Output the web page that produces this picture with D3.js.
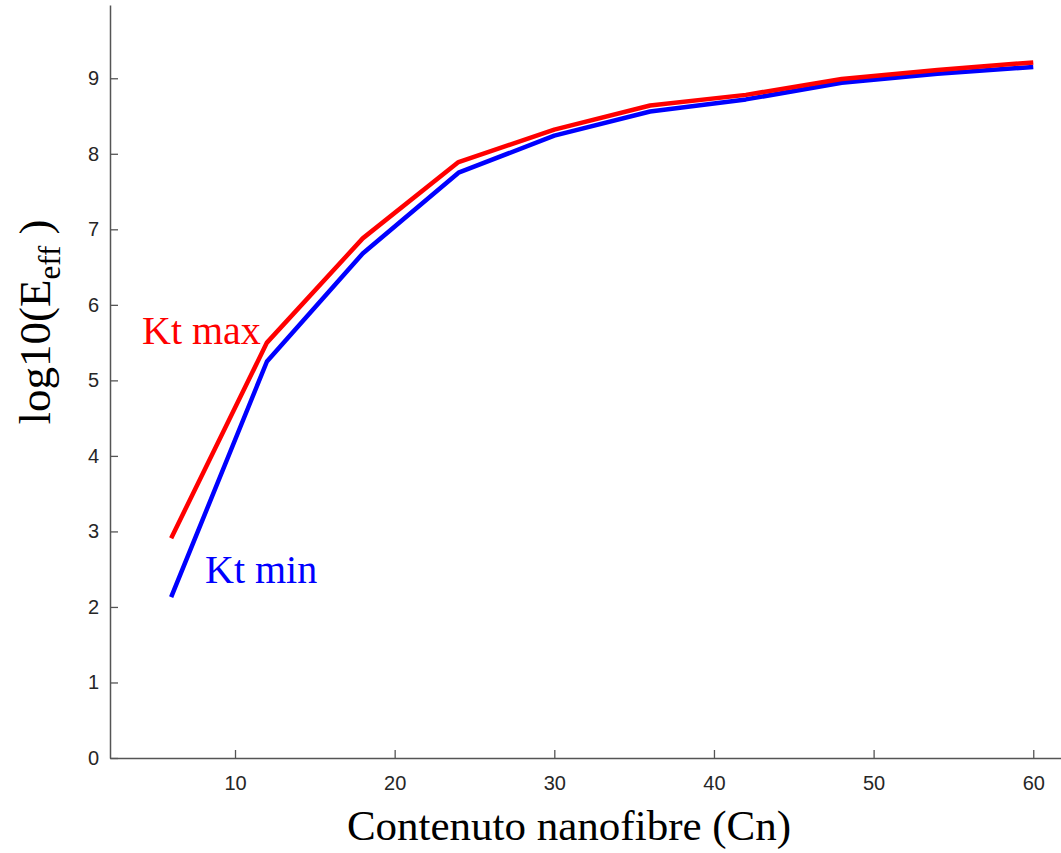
<!DOCTYPE html>
<html>
<head>
<meta charset="utf-8">
<script src="https://cdn.jsdelivr.net/npm/d3@7"></script>
<style>
  body { margin: 0; background: #fff; }
  svg { display: block; }
</style>
</head>
<body>
<div id="chart"></div>
<script>
// nanofibre content (x) and log10(Eeff) for the two Kt bounds
const contenuto = [6, 12, 18, 24, 30, 36, 42, 48, 54, 60];
const ktMax = [2.91, 5.50, 6.88, 7.89, 8.32, 8.64, 8.78, 8.99, 9.11, 9.21];
const ktMin = [2.13, 5.25, 6.68, 7.75, 8.24, 8.56, 8.72, 8.94, 9.06, 9.15];
const xTicks = [10, 20, 30, 40, 50, 60];
const yTicks = [0, 1, 2, 3, 4, 5, 6, 7, 8, 9];

const width = 1061;
const height = 853;

const svg = d3.select('#chart')
  .append('svg')
  .attr('width', width)
  .attr('height', height);

const xScale = d3.scaleLinear()
  .domain([2.17, 61.8])
  .range([110, 1062]);

const yScale = d3.scaleLinear()
  .domain([0, 9.97])
  .range([758, 5]);

const xAxis = d3.axisBottom(xScale)
  .tickValues(xTicks)
  .tickSizeInner(-8)
  .tickSizeOuter(0)
  .tickPadding(18);

const yAxis = d3.axisLeft(yScale)
  .tickValues(yTicks)
  .tickSizeInner(-8)
  .tickSizeOuter(0)
  .tickPadding(11);

const gx = svg.append('g')
  .attr('transform', 'translate(0,' + 758 + ')')
  .call(xAxis);

const gy = svg.append('g')
  .attr('transform', 'translate(110,0)')
  .call(yAxis);

[gx, gy].forEach(g => {
  g.select('.domain').attr('stroke', '#555').attr('stroke-width', 1.5);
  g.selectAll('.tick line').attr('stroke', '#555').attr('stroke-width', 1.3);
  g.selectAll('.tick text')
    .attr('fill', '#262626')
    .style('font-family', '"Liberation Sans", Arial, sans-serif')
    .style('font-size', '20px');
});

const line = d3.line()
  .x((d, i) => xScale(contenuto[i]))
  .y(d => yScale(d));

svg.append('path')
  .datum(ktMin)
  .attr('fill', 'none')
  .attr('stroke', '#0000ff')
  .attr('stroke-width', 4.5)
  .attr('stroke-linejoin', 'round')
  .attr('d', line);

svg.append('path')
  .datum(ktMax)
  .attr('fill', 'none')
  .attr('stroke', '#ff0000')
  .attr('stroke-width', 4.5)
  .attr('stroke-linejoin', 'round')
  .attr('d', line);

const serif = '"Liberation Serif", "Times New Roman", serif';

svg.append('text')
  .attr('x', 142)
  .attr('y', 344)
  .attr('fill', '#ff0000')
  .style('font-family', serif)
  .style('font-size', '40px')
  .text('Kt max');

svg.append('text')
  .attr('x', 205)
  .attr('y', 583)
  .attr('fill', '#0000ff')
  .style('font-family', serif)
  .style('font-size', '40px')
  .text('Kt min');

svg.append('text')
  .attr('x', 569)
  .attr('y', 840)
  .attr('text-anchor', 'middle')
  .attr('fill', '#000')
  .style('font-family', serif)
  .style('font-size', '43px')
  .text('Contenuto nanofibre (Cn)');

const ylab = svg.append('text')
  .attr('transform', 'translate(50,' + 322 + ') rotate(-90)')
  .attr('text-anchor', 'middle')
  .attr('fill', '#000')
  .style('font-family', serif)
  .style('font-size', '45px');
ylab.append('tspan').text('log10(E');
ylab.append('tspan')
  .attr('dy', 10)
  .style('font-size', '31px')
  .text('eff');
ylab.append('tspan')
  .attr('dy', -10)
  .text(' )');
</script>
</body>
</html>
